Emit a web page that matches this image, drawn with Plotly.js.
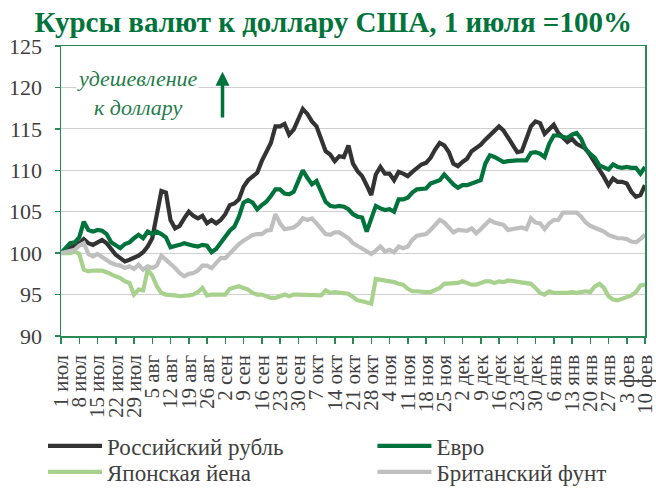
<!DOCTYPE html>
<html>
<head>
<meta charset="utf-8">
<script src="https://cdn.plot.ly/plotly-3.0.1.min.js"></script>
<style>html,body{margin:0;padding:0;background:#fff;}#chart{width:656px;height:488px;}</style>
</head>
<body>
<div id="chart"></div>
<script>
// x positions in weeks since 1 July (sampled every quarter week)
const weeks = [
 0,0.25,0.5,0.75, 1,1.25,1.5,1.75, 2,2.25,2.5,2.75, 3,3.25,3.5,3.75,
 4,4.25,4.5,4.75, 5,5.25,5.5,5.75, 6,6.25,6.5,6.75, 7,7.25,7.5,7.75,
 8,8.25,8.5,8.75, 9,9.25,9.5,9.75, 10,10.25,10.5,10.75, 11,11.25,11.5,11.75,
 12,12.25,12.5,12.75, 13,13.25,13.5,13.75, 14,14.25,14.5,14.75, 15,15.25,15.5,15.75,
 16,16.25,16.5,16.75, 17,17.25,17.5,17.75, 18,18.25,18.5,18.75, 19,19.25,19.5,19.75,
 20,20.25,20.5,20.75, 21,21.25,21.5,21.75, 22,22.25,22.5,22.75, 23,23.25,23.5,23.75,
 24,24.25,24.5,24.75, 25,25.25,25.5,25.75, 26,26.25,26.5,26.75, 27,27.25,27.5,27.75,
 28,28.25,28.5,28.75, 29,29.25,29.5,29.75, 30,30.25,30.5,30.75, 31,31.25,31.5,31.75,
 32
];

const tickWeeks = [0,1,2,3,4,5,6,7,8,9,10,11,12,13,14,15,16,17,18,19,20,21,22,23,24,25,26,27,28,29,30,31,32];
const tickLabels = ['1 июл','8 июл','15 июл','22 июл','29 июл','5 авг','12 авг','19 авг','26 авг',
 '2 сен','9 сен','16 сен','23 сен','30 сен','7 окт','14 окт','21 окт','28 окт',
 '4 ноя','11 ноя','18 ноя','25 ноя','2 дек','9 дек','16 дек','23 дек','30 дек',
 '6 янв','13 янв','20 янв','27 янв','3 фев','10 фев'];

const yTicks = [90,95,100,105,110,115,120,125];

const seriesNames = ['Российский рубль','Евро','Японская йена','Британский фунт'];

const rub = [
 100,100.3,100.7,100.9, 101.2,101.7,101.2,101.0, 101.3,101.6,101.2,100.4, 99.8,99.4,99.0,99.2,
 99.4,99.7,100.1,100.8, 101.8,105.0,107.5,107.3, 104.0,103.0,103.3,104.2, 105.0,104.5,104.2,104.5,
 103.6,104.0,103.6,104.0, 104.7,105.8,106.0,106.5, 108.0,108.8,109.3,109.7, 111.1,112.2,113.3,115.3,
 115.3,115.6,114.3,114.9, 116.3,117.4,116.8,115.9, 115.3,113.7,112.3,111.9, 111.1,111.7,111.6,113.0,
 110.8,109.9,109.3,108.2, 107.0,109.5,110.4,109.6, 109.6,108.8,109.8,109.6, 109.3,109.8,110.3,110.7,
 110.9,111.5,112.5,113.3, 113.0,112.2,110.8,110.5, 111.0,111.4,112.3,112.7, 113.1,113.7,114.2,114.7,
 115.3,114.8,113.9,112.9, 112.2,112.3,113.8,115.3, 115.9,115.7,114.4,115.0, 115.5,114.5,114.0,113.4,
 113.8,113.2,112.9,112.6, 111.8,111.0,110.0,109.2, 108.2,109.0,108.6,108.6, 108.4,107.4,106.8,107.0,
 108.2
];

const eur = [
 100,100.6,101.2,101.3, 101.9,103.8,102.8,102.6, 102.8,102.7,102.3,101.3, 101.0,100.6,101.1,101.3,
 101.8,102.2,101.8,102.6, 102.3,102.6,102.3,101.9, 100.7,100.8,101.0,101.2, 101.0,100.9,100.8,101.0,
 100.9,100.1,100.5,101.3, 102.0,102.7,103.2,104.4, 106.1,106.4,106.1,105.3, 105.8,106.2,106.9,107.7,
 107.7,107.2,107.1,107.4, 108.7,110.0,109.1,108.3, 108.7,107.3,106.2,105.7, 105.6,105.7,105.6,105.3,
 104.7,104.4,104.3,102.6, 104.0,105.7,105.4,105.2, 105.3,105.0,106.5,106.5, 106.7,107.3,107.7,107.7,
 107.8,108.4,108.6,108.8, 109.5,108.8,108.3,107.9, 108.2,108.2,108.4,108.6, 108.8,110.8,111.8,111.6,
 111.3,111.0,111.1,111.2, 111.2,111.2,111.2,112.1, 112.2,112.0,111.6,113.2, 114.2,114.2,114.0,113.9,
 114.3,114.5,113.8,112.5, 112.0,111.5,110.6,110.3, 110.1,110.7,110.4,110.3, 110.4,110.3,110.3,109.6,
 110.4
];

const jpy = [
 100,100,100,100.2, 99.9,98.0,97.8,97.9, 97.9,97.9,97.7,97.4, 97.2,97.0,96.6,96.4,
 95.0,95.6,95.5,98.0, 97.3,96.0,95.2,95.0, 95.0,94.9,94.8,94.8, 94.9,95.0,95.3,95.8,
 94.9,95.0,95.0,95.0, 95.0,95.7,95.9,96.0, 95.8,95.6,95.2,95.0, 95.0,94.8,94.6,94.6,
 94.8,95.0,94.8,95.0, 95.0,95.0,94.9,94.9, 95.0,94.9,95.5,95.2, 95.3,95.2,95.1,95.1,
 94.7,94.3,94.2,94.1, 93.9,96.9,96.8,96.8, 96.7,96.5,96.3,96.2, 95.7,95.4,95.4,95.3,
 95.3,95.3,95.5,95.8, 96.3,96.3,96.3,96.4, 96.6,96.4,96.2,96.2, 96.4,96.6,96.6,96.4,
 96.6,96.5,96.7,96.6, 96.6,96.5,96.4,96.3, 95.8,95.2,95.0,95.4, 95.2,95.2,95.1,95.2,
 95.3,95.2,95.3,95.4, 95.3,96.0,96.3,95.8, 94.8,94.4,94.3,94.5, 94.7,94.9,95.3,96.1,
 96.2
];

const gbp = [
 100,100.1,100.2,100.4, 100.9,101.2,99.9,99.6, 99.9,99.5,99.2,98.8, 98.6,98.5,98.2,98.4,
 98.1,98.6,98.0,98.4, 98.2,98.5,99.7,99.2, 98.8,98.2,97.6,97.2, 97.5,97.6,97.9,98.5,
 98.5,98.2,98.8,99.4, 99.4,100.0,100.5,101.1, 101.5,101.8,102.2,102.3, 102.3,102.7,102.8,104.7,
 103.6,102.9,103.0,103.1, 103.5,104.2,104.0,104.2, 103.6,102.9,102.3,102.2, 102.5,102.5,102.1,101.8,
 101.2,100.9,100.6,100.2, 99.9,100.3,100.8,100.2, 100.4,100.1,100.8,100.6, 100.8,101.6,102.1,102.2,
 102.3,102.8,103.4,104.0, 103.7,103.1,102.5,102.8, 102.8,102.7,103.0,102.4, 102.9,103.4,104.0,103.7,
 103.6,103.4,102.8,102.9, 103.0,103.1,102.9,104.2, 103.7,103.6,102.9,103.6, 104.0,104.0,104.9,104.9,
 105.0,104.9,104.4,103.7, 103.3,103.1,102.9,102.6, 102.2,102.0,101.8,101.8, 101.7,101.4,101.3,101.7,
 102.2
];

const GREEN_AXIS = '#2a8a57';
const TXT = '#404040';
const SERIF = 'Liberation Serif, Times New Roman, serif';

function tr(name, y, color, legendId) {
  return {
    type: 'scatter', mode: 'lines', name: name, x: weeks, y: y,
    line: {color: color, width: 4.2},
    legend: legendId, hoverinfo: 'skip'
  };
}

const data = [
  tr(seriesNames[0], rub, '#333333', 'legend'),
  tr(seriesNames[1], eur, '#00733d', 'legend2'),
  tr(seriesNames[2], jpy, '#a9d18e', 'legend3'),
  tr(seriesNames[3], gbp, '#bfbfbf', 'legend4')
];

function leg(x, y) {
  return {
    orientation: 'v', xref: 'paper', x: x, xanchor: 'left',
    yref: 'container', y: y, yanchor: 'middle',
    font: {family: SERIF, size: 23, color: TXT}, bgcolor: 'rgba(0,0,0,0)',
    itemwidth: 54, borderwidth: 0
  };
}

const layout = {
  width: 656, height: 488,
  margin: {l: 61, r: 11, t: 46, b: 152},
  paper_bgcolor: '#ffffff', plot_bgcolor: '#ffffff',
  font: {family: SERIF, color: TXT},
  title: {
    text: '<b>Курсы валют к доллару США, 1 июля =100%</b>',
    font: {family: SERIF, size: 29, color: '#00743a'},
    x: 0.508, xanchor: 'center', y: 0.956, yanchor: 'middle'
  },
  xaxis: {
    range: [0, 32], tickmode: 'array', tickvals: tickWeeks, ticktext: tickLabels,
    tickangle: -90, ticks: 'outside', ticklen: 6, tickwidth: 1.5, tickcolor: GREEN_AXIS,
    showline: true, linecolor: GREEN_AXIS, linewidth: 1.5, mirror: true,
    showgrid: false, zeroline: false, automargin: false, ticklabeloverflow: 'allow',
    ticklabelstandoff: 3,
    tickfont: {family: SERIF, size: 21, color: TXT}
  },
  yaxis: {
    range: [90, 125], tickmode: 'array', tickvals: yTicks,
    ticks: 'outside', ticklen: 5, tickwidth: 1.5, tickcolor: GREEN_AXIS,
    showline: true, linecolor: GREEN_AXIS, linewidth: 1.5, mirror: true,
    showgrid: true, gridcolor: '#d0d0d0', gridwidth: 1.2, zeroline: false,
    automargin: false, ticklabelstandoff: 8,
    tickfont: {family: SERIF, size: 22, color: TXT}
  },
  showlegend: true,
  legend: leg(-0.0308, 1 - 446/488),
  legend2: leg(0.5333, 1 - 446/488),
  legend3: leg(-0.0308, 1 - 472/488),
  legend4: leg(0.5333, 1 - 472/488),
  annotations: [
    {xref: 'x', yref: 'y', x: 4.2, y: 119.3, text: '<i>удешевление<br>к доллару</i>', showarrow: false,
     font: {family: SERIF, size: 22, color: '#1f7d4a'}, bgcolor: '#ffffff', borderpad: 0},
    {xref: 'x', yref: 'y', x: 8.85, y: 121.9, axref: 'x', ayref: 'y', ax: 8.85, ay: 116.2,
     text: '', showarrow: true, arrowhead: 2, arrowsize: 0.8, arrowwidth: 3.5,
     arrowcolor: '#00733d', standoff: 0, startstandoff: 0}
  ]
};

Plotly.newPlot('chart', data, layout, {displayModeBar: false, staticPlot: true});
</script>
</body>
</html>
